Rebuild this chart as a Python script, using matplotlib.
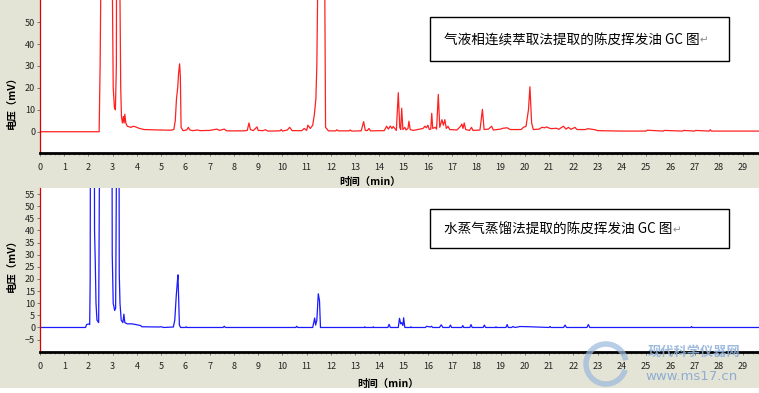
import matplotlib
matplotlib.use('Agg')
import matplotlib.pyplot as plt
from matplotlib.patches import Rectangle, Arc
from matplotlib.text import Annotation
from matplotlib.ticker import MultipleLocator

plt.rcParams['font.family'] = ['Noto Sans CJK SC', 'DejaVu Sans']

# 气液相连续萃取法 (红线): (时间 min, 电压 mV) ; 200 = 超出量程
red_pts = [
    (0, 0), (2.44, 0), (2.48, 30), (2.52, 80), (2.6, 200), (2.95, 200), (2.99, 60),
    (3.02, 20), (3.07, 11), (3.11, 10), (3.15, 30), (3.18, 200), (3.27, 200), (3.30, 60),
    (3.33, 20), (3.36, 7), (3.40, 4), (3.44, 7), (3.47, 4), (3.50, 8), (3.54, 4),
    (3.60, 2.5), (3.75, 2), (3.85, 2.5), (3.95, 2.2), (4.10, 1.5), (4.30, 1),
    (4.90, 0.8), (5.40, 0.7), (5.52, 1), (5.58, 5), (5.63, 15), (5.68, 20), (5.72, 27),
    (5.76, 31), (5.79, 25), (5.82, 2), (5.90, 0.5), (6.05, 0.8), (6.12, 2), (6.18, 0.8),
    (6.30, 0.5), (6.50, 0.8), (6.60, 0.5), (7.00, 0.6), (7.30, 1.2), (7.40, 0.6),
    (7.60, 1.2), (7.70, 0.4), (8.40, 0.4), (8.55, 0.6), (8.62, 4), (8.68, 1), (8.80, 0.5),
    (8.95, 2.2), (9.00, 0.6), (9.20, 0.5), (9.30, 0.9), (9.40, 0.3), (9.90, 0.4),
    (9.95, 1), (10.00, 0.3), (10.20, 0.8), (10.30, 2), (10.40, 0.5), (10.80, 0.5),
    (10.90, 1.5), (11.00, 0.6), (11.05, 3), (11.15, 1.5), (11.25, 3), (11.32, 8),
    (11.38, 15), (11.42, 30), (11.46, 70), (11.50, 200), (11.70, 200), (11.75, 60),
    (11.78, 2), (11.90, 0.4), (12.20, 0.4), (12.25, 0.9), (12.30, 0.4), (12.75, 0.4),
    (12.80, 0.8), (12.85, 0.3), (13.25, 0.4), (13.35, 4.6), (13.42, 0.6), (13.50, 0.5),
    (13.57, 1.5), (13.63, 0.4), (14.20, 0.5), (14.30, 2.5), (14.37, 1.2), (14.45, 2.6),
    (14.52, 1.5), (14.57, 2.4), (14.70, 0.6), (14.78, 17.8), (14.84, 2), (14.88, 1),
    (14.92, 10.7), (14.97, 1), (15.05, 2), (15.10, 0.8), (15.18, 1.5), (15.22, 4.8),
    (15.27, 1), (15.40, 0.6), (15.80, 1.5), (15.88, 2.5), (15.94, 1.8), (16.00, 3),
    (16.06, 1), (16.12, 1.2), (16.16, 8.4), (16.20, 1.5), (16.30, 2), (16.36, 1.2),
    (16.43, 17), (16.49, 2), (16.58, 5.5), (16.64, 3), (16.70, 5.5), (16.76, 1.5),
    (16.83, 2.5), (16.90, 1), (17.20, 0.8), (17.35, 2.5), (17.40, 3.5), (17.45, 1.5),
    (17.50, 4), (17.56, 1), (17.72, 0.6), (17.80, 2), (17.86, 0.6), (18.15, 0.8),
    (18.25, 10.2), (18.32, 1), (18.50, 1.2), (18.63, 2.5), (18.70, 0.8), (19.00, 1.2),
    (19.10, 1.6), (19.27, 1.8), (19.40, 1), (19.85, 1), (19.94, 2), (20.05, 2.5),
    (20.15, 10), (20.21, 20.5), (20.28, 4), (20.35, 1), (20.60, 1.2), (20.70, 2),
    (20.83, 1.8), (20.90, 2.2), (21.04, 1.5), (21.10, 1.4), (21.30, 1.6), (21.40, 1.1),
    (21.59, 2.5), (21.70, 1.2), (21.80, 2), (21.90, 1.1), (22.07, 2), (22.15, 1),
    (22.50, 1), (22.60, 1.4), (22.90, 0.9), (23.00, 0.5), (24.00, 0.3), (25.00, 0.3),
    (25.05, 0.7), (25.70, 0.3), (25.75, 0.6), (26.50, 0.3), (26.55, 0.6), (27.00, 0.3),
    (27.05, 0.6), (27.60, 0.3), (27.65, 0.9), (27.70, 0.3), (29.70, 0.3),
]

# 水蒸气蒸馏法 (蓝线)
blue_pts = [
    (0, 0), (1.88, 0), (1.92, 1.2), (2.02, 1.5), (2.05, 1.2), (2.07, 20), (2.10, 200),
    (2.22, 200), (2.25, 40), (2.28, 27), (2.31, 10), (2.35, 3), (2.42, 2), (2.45, 60),
    (2.48, 200), (2.95, 200), (2.98, 30), (3.02, 10), (3.08, 7), (3.12, 8), (3.15, 60),
    (3.18, 200), (3.24, 200), (3.27, 22), (3.30, 10), (3.35, 3), (3.42, 2), (3.46, 5.5),
    (3.50, 2), (3.60, 1.5), (3.80, 1.5), (3.95, 1.2), (4.05, 1), (4.15, 0.8), (4.20, 0.3),
    (4.90, 0.2), (5.00, 0.3), (5.10, 0), (5.50, 0.2), (5.56, 3), (5.62, 13), (5.66, 18),
    (5.69, 21.7), (5.72, 12), (5.75, 1), (5.80, 0), (6.00, 0), (6.03, 0.3), (6.06, 0),
    (7.55, 0), (7.60, 0.5), (7.65, 0), (10.55, 0), (10.59, 0.5), (10.63, 0), (11.25, 0),
    (11.33, 3.9), (11.37, 1), (11.42, 3), (11.48, 13.9), (11.53, 11), (11.57, 0),
    (13.38, 0), (13.40, 0.3), (13.42, 0), (13.73, 0), (13.75, 0.3), (13.77, 0),
    (14.35, 0), (14.40, 1.3), (14.45, 0), (14.78, 0), (14.83, 3.8), (14.88, 1.5),
    (14.92, 2), (14.97, 0.8), (15.00, 4), (15.05, 0), (15.28, 0), (15.30, 0.3),
    (15.32, 0), (15.90, 0), (15.95, 0.5), (16.10, 0.2), (16.15, 0.5), (16.20, 0),
    (16.48, 0), (16.55, 1.1), (16.62, 0), (16.88, 0), (16.93, 1), (16.98, 0),
    (17.40, 0), (17.44, 0.8), (17.48, 0), (17.73, 0), (17.78, 1.2), (17.83, 0),
    (18.28, 0), (18.33, 1), (18.38, 0), (18.79, 0), (18.81, 0.3), (18.83, 0),
    (19.22, 0), (19.27, 1.2), (19.32, 0), (19.46, 0), (19.50, 0.4), (19.60, 0),
    (19.80, 0.4), (20.20, 0.3), (21.00, 0), (21.04, 0.4), (21.08, 0), (21.60, 0),
    (21.66, 1), (21.72, 0), (22.56, 0), (22.62, 1.2), (22.68, 0), (26.85, 0),
    (26.88, 0.4), (26.91, 0), (29.70, 0),
]

top_yticks = [0, 10, 20, 30, 40, 50]
bot_yticks = [-5, 0, 5, 10, 15, 20, 25, 30, 35, 40, 45, 50, 55]
title_top = '气液相连续萃取法提取的陈皮挥发油 GC 图'
title_bot = '水蒸气蒸馏法提取的陈皮挥发油 GC 图'

W, H = 759, 393
bg = '#e4e4d6'


def fx(px):
    return px / W


def fy(py):
    return 1 - py / H


fig = plt.figure(figsize=(W / 100, H / 100), dpi=100, facecolor=bg)
fig.patches.append(Rectangle((0, 0), 1, fy(388), transform=fig.transFigure,
                             facecolor='white', edgecolor='none', zorder=0))

ax1 = fig.add_axes([fx(40), fy(153), 1 - fx(40), 153 / H])
ax2 = fig.add_axes([fx(40), fy(351.5), 1 - fx(40), (351.5 - 188) / H])

for ax, pts, col, ylim, yt in [(ax1, red_pts, '#ff2020', (-9.7, 60.1), top_yticks),
                               (ax2, blue_pts, '#1a1aff', (-9.9, 57.5), bot_yticks)]:
    t = [p[0] for p in pts]
    v = [p[1] for p in pts]
    ax.plot(t, v, color=col, lw=0.9)
    ax.set_xlim(0, 29.66)
    ax.set_ylim(*ylim)
    ax.set_yticks(yt)
    ax.xaxis.set_major_locator(MultipleLocator(1))
    ax.xaxis.set_minor_locator(MultipleLocator(0.2))
    ax.tick_params(axis='x', which='major', length=2.5, width=0.6, labelsize=6.5,
                   pad=5, color='#666666', labelcolor='#222222')
    ax.tick_params(axis='x', which='minor', length=1.5, width=0.5, color='#888888')
    ax.tick_params(axis='y', length=2, width=0.6, labelsize=6.5, pad=1.5,
                   color='#666666', labelcolor='#222222')
    for s in ['top', 'right']:
        ax.spines[s].set_visible(False)
    ax.spines['left'].set_color('#dd0000')
    ax.spines['left'].set_linewidth(0.9)
    ax.spines['bottom'].set_color('black')
    ax.spines['bottom'].set_linewidth(2)
    ax.set_facecolor('white')

fig.text(fx(12), fy(100), '电压（mV）', rotation=90, ha='center', va='center',
         fontsize=7.5, fontweight='bold')
fig.text(fx(12), fy(263), '电压（mV）', rotation=90, ha='center', va='center',
         fontsize=7.5, fontweight='bold')
fig.text(fx(370), fy(182), '时间（min）', ha='center', va='center',
         fontsize=7.5, fontweight='bold')
fig.text(fx(388), fy(384), '时间（min）', ha='center', va='center',
         fontsize=7.5, fontweight='bold')

# 图中说明框
for (x0, y0, x1, y1, ty, s) in [(430, 17, 729, 61, 40, title_top),
                                (430, 209, 729, 248, 230, title_bot)]:
    fig.patches.append(Rectangle((fx(x0), fy(y1)), fx(x1) - fx(x0), fy(y0) - fy(y1),
                                 transform=fig.transFigure, facecolor='white',
                                 edgecolor='black', lw=1, zorder=5))
    txt = fig.text(fx(444), fy(ty), s, ha='left', va='center', fontsize=9.8, zorder=6)
    fig.add_artist(Annotation('↵', xy=(1, 0.45), xycoords=txt, ha='left', va='center',
                              fontsize=7.5, color='#888888', family=['DejaVu Sans'],
                              zorder=6))

# 水印
fig.patches.append(Arc((fx(606), fy(364)), 40 / W, 40 / H, theta1=20, theta2=330,
                       transform=fig.transFigure, color='#9ab8dc', lw=4, alpha=0.7, zorder=7))
fig.text(fx(694), fy(352), '现代科学仪器网', ha='center', va='center', fontsize=9.5,
         fontweight='bold', color='#8eb0d8', alpha=0.85, zorder=7)
fig.text(fx(692), fy(376), 'www.ms17.cn', ha='center', va='center', fontsize=9.5,
         color='#7fa3d0', alpha=0.85, zorder=7, family=['DejaVu Sans'])

fig.savefig('out.png', dpi=100, facecolor=bg)
